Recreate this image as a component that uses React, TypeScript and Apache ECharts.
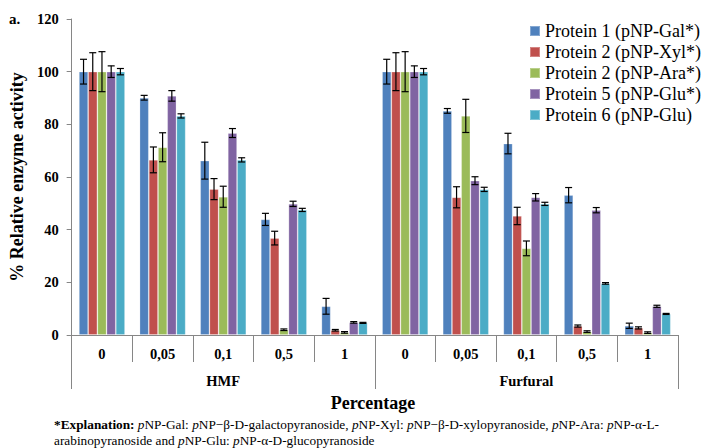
import React, { useEffect, useRef } from "react";
import * as echarts from "echarts";

const categories = ["0", "0,05", "0,1", "0,5", "1", "0", "0,05", "0,1", "0,5", "1"];
const groups = ["HMF", "Furfural"];
const yTicks = { min: 0, max: 120, interval: 20 };

const seriesNames = [
  "Protein 1 (pNP-Gal*)",
  "Protein 2 (pNP-Xyl*)",
  "Protein 2 (pNP-Ara*)",
  "Protein 5 (pNP-Glu*)",
  "Protein 6 (pNP-Glu)",
];
const colors = ["#4F81BD", "#C0504D", "#9BBB59", "#8064A2", "#4BACC6"];

const p1 = [100, 90.1, 66.2, 43.9, 10.9, 100, 85.1, 72.7, 53.1, 3.5];
const p1Err = [4.7, 0.9, 7.0, 2.3, 3.0, 4.7, 0.9, 3.9, 2.9, 1.0];
const p2 = [100, 66.5, 55.4, 36.8, 1.8, 100, 52.3, 45.2, 3.4, 2.7];
const p2Err = [7.2, 4.9, 4.0, 2.6, 0.3, 7.2, 4.0, 3.3, 0.4, 0.4];
const p3 = [100, 71.3, 52.5, 2.0, 1.0, 100, 83.2, 32.9, 1.3, 0.9];
const p3Err = [7.6, 5.5, 4.0, 0.3, 0.3, 7.6, 6.3, 2.8, 0.3, 0.3];
const p4 = [100, 90.8, 76.7, 49.8, 4.8, 100, 58.6, 52.3, 47.4, 10.9];
const p4Err = [2.2, 2.0, 1.7, 1.0, 0.3, 2.2, 1.5, 1.4, 1.0, 0.4];
const p5 = [100, 83.2, 66.5, 47.5, 4.6, 100, 55.3, 49.8, 19.6, 8.0];
const p5Err = [1.2, 0.8, 0.8, 0.6, 0.2, 1.2, 0.8, 0.6, 0.3, 0.2];

const values = [p1, p2, p3, p4, p5];
const errors = [p1Err, p2Err, p3Err, p4Err, p5Err];

const SERIF = "Liberation Serif";
const CAT_GAP = 0.24;
const AXIS_GREY = "#868686";

export default function App() {
  const ref = useRef<HTMLDivElement>(null);
  useEffect(() => {
    if (!ref.current) return;
    const chart = echarts.init(ref.current, null, { renderer: "svg" });
    const n = values.length;
    const errData: number[][] = [];
    values.forEach((arr, s) => {
      arr.forEach((v, i) => errData.push([i, v, errors[s][i], s]));
    });
    const barSeries = values.map((arr, s) => ({
      name: seriesNames[s],
      type: "bar",
      data: arr,
      barGap: "0%",
      barCategoryGap: CAT_GAP * 100 + "%",
      itemStyle: { color: colors[s], borderColor: "rgba(255,255,255,0.3)", borderWidth: 0.8 },
    }));
    const errSeries = {
      type: "custom",
      silent: true,
      z: 10,
      data: errData,
      encode: { x: 0, y: 1 },
      renderItem: (params: any, api: any) => {
        const xi = api.value(0);
        const v = api.value(1);
        const e = api.value(2);
        const s = api.value(3);
        const band = api.size([1, 0])[0];
        const bw = (band * (1 - CAT_GAP)) / n;
        const c = api.coord([xi, v]);
        const cx = c[0] + (s - (n - 1) / 2) * bw;
        const top = api.coord([xi, v + e])[1];
        const bot = api.coord([xi, Math.max(v - e, 0)])[1];
        const cap = 3.5;
        const st = { stroke: "#000", lineWidth: 1.2 };
        return {
          type: "group",
          children: [
            { type: "line", shape: { x1: cx, y1: top, x2: cx, y2: bot }, style: st },
            { type: "line", shape: { x1: cx - cap, y1: top, x2: cx + cap, y2: top }, style: st },
            { type: "line", shape: { x1: cx - cap, y1: bot, x2: cx + cap, y2: bot }, style: st },
          ],
        };
      },
    };
    const richBase = { fontFamily: SERIF, fontSize: 13.3, color: "#000" };
    chart.setOption({
      animation: false,
      backgroundColor: "#fff",
      textStyle: { fontFamily: SERIF },
      grid: { left: 67, right: 24, top: 19, bottom: 113 },
      legend: {
        data: seriesNames,
        orient: "vertical",
        left: 524,
        top: 17,
        icon: "rect",
        itemWidth: 10,
        itemHeight: 10,
        itemGap: 3,
        textStyle: { fontFamily: SERIF, fontSize: 18, color: "#000" },
      },
      xAxis: [
        {
          type: "category",
          data: categories,
          position: "bottom",
          axisLine: { lineStyle: { color: AXIS_GREY } },
          axisTick: { show: true, interval: 0, length: 27, lineStyle: { color: AXIS_GREY } },
          axisLabel: {
            interval: 0,
            margin: 11,
            fontFamily: SERIF,
            fontWeight: "bold",
            fontSize: 14.5,
            color: "#000",
          },
        },
        {
          type: "category",
          data: groups,
          position: "bottom",
          offset: 0,
          axisLine: { show: false },
          axisTick: { show: true, interval: 0, length: 54, lineStyle: { color: AXIS_GREY } },
          axisLabel: {
            interval: 0,
            margin: 38,
            fontFamily: SERIF,
            fontWeight: "bold",
            fontSize: 14.5,
            color: "#000",
          },
        },
      ],
      yAxis: {
        type: "value",
        min: yTicks.min,
        max: yTicks.max,
        interval: yTicks.interval,
        name: "% Relative enzyme activity",
        nameLocation: "middle",
        nameGap: 38,
        nameRotate: 90,
        nameTextStyle: { fontFamily: SERIF, fontWeight: "bold", fontSize: 18, color: "#000" },
        axisLine: { show: true, lineStyle: { color: AXIS_GREY } },
        axisTick: { show: true, length: 5, lineStyle: { color: AXIS_GREY } },
        splitLine: { show: false },
        axisLabel: {
          margin: 13,
          fontFamily: SERIF,
          fontWeight: "bold",
          fontSize: 14.5,
          color: "#000",
        },
      },
      graphic: [
        {
          type: "text",
          left: 9,
          top: 11,
          style: { text: "a.", fontFamily: SERIF, fontWeight: "bold", fontSize: 15, fill: "#000" },
        },
        {
          type: "text",
          x: 373,
          y: 403,
          style: {
            text: "Percentage",
            fontFamily: SERIF,
            fontWeight: "bold",
            fontSize: 18,
            fill: "#000",
            align: "center",
            verticalAlign: "middle",
            textAlign: "center",
            textVerticalAlign: "middle",
          },
        },
        {
          type: "text",
          x: 54,
          y: 424,
          style: {
            text:
              "{b|*Explanation:} {i|p}NP-Gal: {i|p}NP\u2212\u03b2-D-galactopyranoside, {i|p}NP-Xyl: {i|p}NP\u2212\u03b2-D-xylopyranoside, {i|p}NP-Ara: {i|p}NP-\u03b1-L-",
            ...richBase,
            fill: "#000",
            verticalAlign: "middle",
            textVerticalAlign: "middle",
            rich: {
              b: { ...richBase, fontWeight: "bold" },
              i: { ...richBase, fontStyle: "italic" },
            },
          },
        },
        {
          type: "text",
          x: 54,
          y: 440,
          style: {
            text: "arabinopyranoside and {i|p}NP-Glu: {i|p}NP-\u03b1-D-glucopyranoside",
            ...richBase,
            fill: "#000",
            verticalAlign: "middle",
            textVerticalAlign: "middle",
            rich: {
              i: { ...richBase, fontStyle: "italic" },
            },
          },
        },
      ],
      series: [...barSeries, errSeries],
    });
    return () => chart.dispose();
  }, []);
  return (
    <div
      ref={ref}
      style={{ position: "fixed", left: 0, top: 0, width: 702, height: 448, background: "#fff" }}
    />
  );
}
